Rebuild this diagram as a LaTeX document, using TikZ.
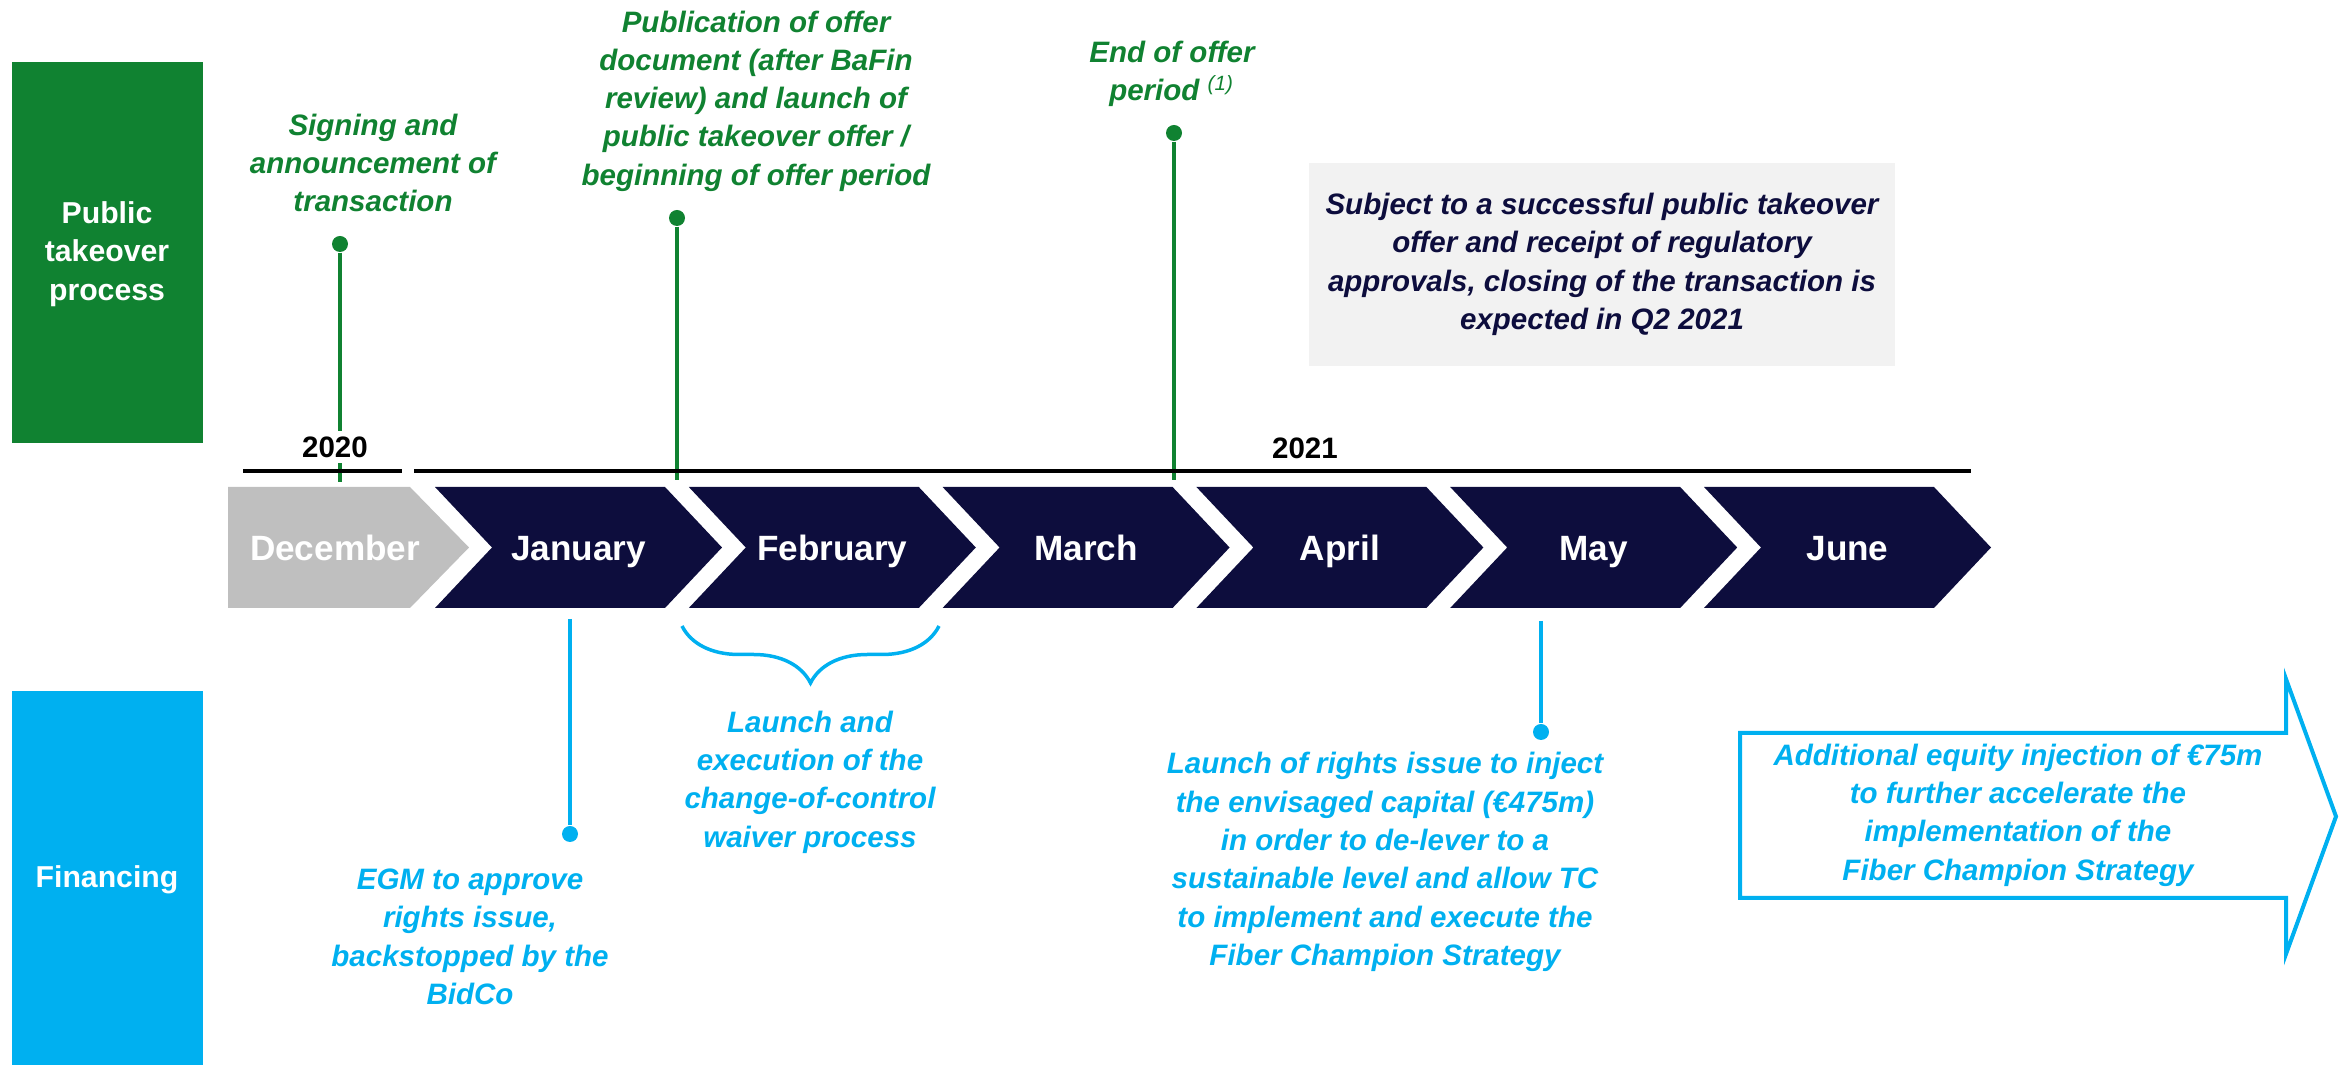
\documentclass[tikz,border=0pt]{standalone}
\usepackage{fontspec}
\setmainfont{Liberation Sans}
\usetikzlibrary{decorations.pathreplacing}
\definecolor{ptgreen}{HTML}{108231}
\definecolor{finblue}{HTML}{00B0F0}
\definecolor{navy}{HTML}{0D0D3D}
\definecolor{decgrey}{HTML}{BFBFBF}
\definecolor{notegrey}{HTML}{F2F2F2}
\begin{document}
\begin{tikzpicture}[x=0.1mm,y=-0.1mm,
  lbl/.style={font=\fontsize{8.4}{10.9}\selectfont\bfseries\itshape, align=center, inner sep=0pt},
  month/.style={font=\fontsize{10}{12}\selectfont\bfseries, text=white, inner sep=0pt, anchor=base},
  side/.style={font=\fontsize{8.6}{11}\selectfont\bfseries, text=white, align=center, inner sep=0pt},
  year/.style={font=\fontsize{8.4}{10}\selectfont\bfseries, fill=white, inner sep=1.5pt},
  stem/.style={line width=0.35mm},
  dot/.style={circle, fill, inner sep=0pt, minimum size=1.6mm}]
\useasboundingbox (0,0) rectangle (2346,1065);
% side boxes
\fill[ptgreen] (12,62) rectangle (203,443);
\node[side] (pub) at (107,254) {Public\\takeover\\process};
\fill[finblue] (12,691) rectangle (203,1065);
\node[side] (fin) at (107,880) {Financing};
% takeover events
\node[dot, ptgreen] (S) at (340,244) {};
\coordinate (Sb) at (340,482);
\draw[stem, ptgreen] (S) -- (Sb);
\node[lbl, text=ptgreen] (signtxt) at (373,163) {Signing and\\announcement of\\transaction};
\node[dot, ptgreen] (P) at (677,218) {};
\coordinate (Pb) at (677,480);
\draw[stem, ptgreen] (P) -- (Pb);
\node[lbl, text=ptgreen] (pubtxt) at (756,101) {Publication of offer\\document (after BaFin\\review) and launch of\\public takeover offer /\\beginning of offer period};
\node[dot, ptgreen] (E) at (1174,133) {};
\coordinate (Eb) at (1174,480);
\draw[stem, ptgreen] (E) -- (Eb);
\node[lbl, text=ptgreen] (endtxt) at (1172,74) {End of offer\\period \textsuperscript{\mdseries(1)}};
\node[lbl, fill=notegrey, text=navy, minimum width=58.6mm, minimum height=20.3mm] (note) at (1602,264.5)
  {Subject to a successful public takeover\\offer and receipt of regulatory\\approvals, closing of the transaction is\\expected in Q2 2021};
% years
\node[year] (y20) at (335,447) {2020};
\node[year] (y21) at (1305,448) {2021};
\draw[line width=0.4mm] (243,471) -- (402,471);
\draw[line width=0.4mm] (414,471) -- (1971,471);
% months
\fill[decgrey] (228,487) -- (410,487) -- (469,547.5) -- (410,608) -- (228,608) -- cycle;
\fill[navy] (435,487) -- ++(230,0) -- ++(57,60.5) -- ++(-57,60.5) -- ++(-230,0) -- ++(57,-60.5) -- cycle;
\fill[navy] (688.8,487) -- ++(230,0) -- ++(57,60.5) -- ++(-57,60.5) -- ++(-230,0) -- ++(57,-60.5) -- cycle;
\fill[navy] (942.6,487) -- ++(230,0) -- ++(57,60.5) -- ++(-57,60.5) -- ++(-230,0) -- ++(57,-60.5) -- cycle;
\fill[navy] (1196.4,487) -- ++(230,0) -- ++(57,60.5) -- ++(-57,60.5) -- ++(-230,0) -- ++(57,-60.5) -- cycle;
\fill[navy] (1450.2,487) -- ++(230,0) -- ++(57,60.5) -- ++(-57,60.5) -- ++(-230,0) -- ++(57,-60.5) -- cycle;
\fill[navy] (1704,487) -- ++(230,0) -- ++(57,60.5) -- ++(-57,60.5) -- ++(-230,0) -- ++(57,-60.5) -- cycle;
\node[month] (dec) at (335,561) {December};
\node[month] (jan) at (578.5,561) {January};
\node[month] (feb) at (832.3,561) {February};
\node[month] (mar) at (1086.1,561) {March};
\node[month] (apr) at (1339.9,561) {April};
\node[month] (may) at (1593.7,561) {May};
\node[month] (jun) at (1847.5,561) {June};
% financing events
\coordinate (Jt) at (570,619);
\node[dot, finblue] (J) at (570,834) {};
\draw[stem, finblue] (Jt) -- (J);
\node[lbl, text=finblue] (egm) at (470,937) {EGM to approve\\rights issue,\\backstopped by the\\BidCo};
\coordinate (Bl) at (682,626);
\coordinate (Br) at (939,626);
\draw[stem, finblue, decorate, decoration={brace, mirror, amplitude=5.7mm}] (Bl) -- (Br);
\node[lbl, text=finblue] (waiver) at (810,782) {Launch and\\execution of the\\change-of-control\\waiver process};
\coordinate (Mt) at (1541,621);
\node[dot, finblue] (M) at (1541,732) {};
\draw[stem, finblue] (Mt) -- (M);
\node[lbl, text=finblue] (rights) at (1385,862) {Launch of rights issue to inject\\the envisaged capital (€475m)\\in order to de-lever to a\\sustainable level and allow TC\\to implement and execute the\\Fiber Champion Strategy};
\draw[finblue, line width=0.4mm] (1740,733) -- (2286,733) -- (2286,679) -- (2336,816.5) -- (2286,954) -- (2286,898) -- (1740,898) -- cycle;
\node[lbl, text=finblue] (equity) at (2018,815) {Additional equity injection of €75m\\to further accelerate the\\implementation of the\\Fiber Champion Strategy};
\end{tikzpicture}
\end{document}
